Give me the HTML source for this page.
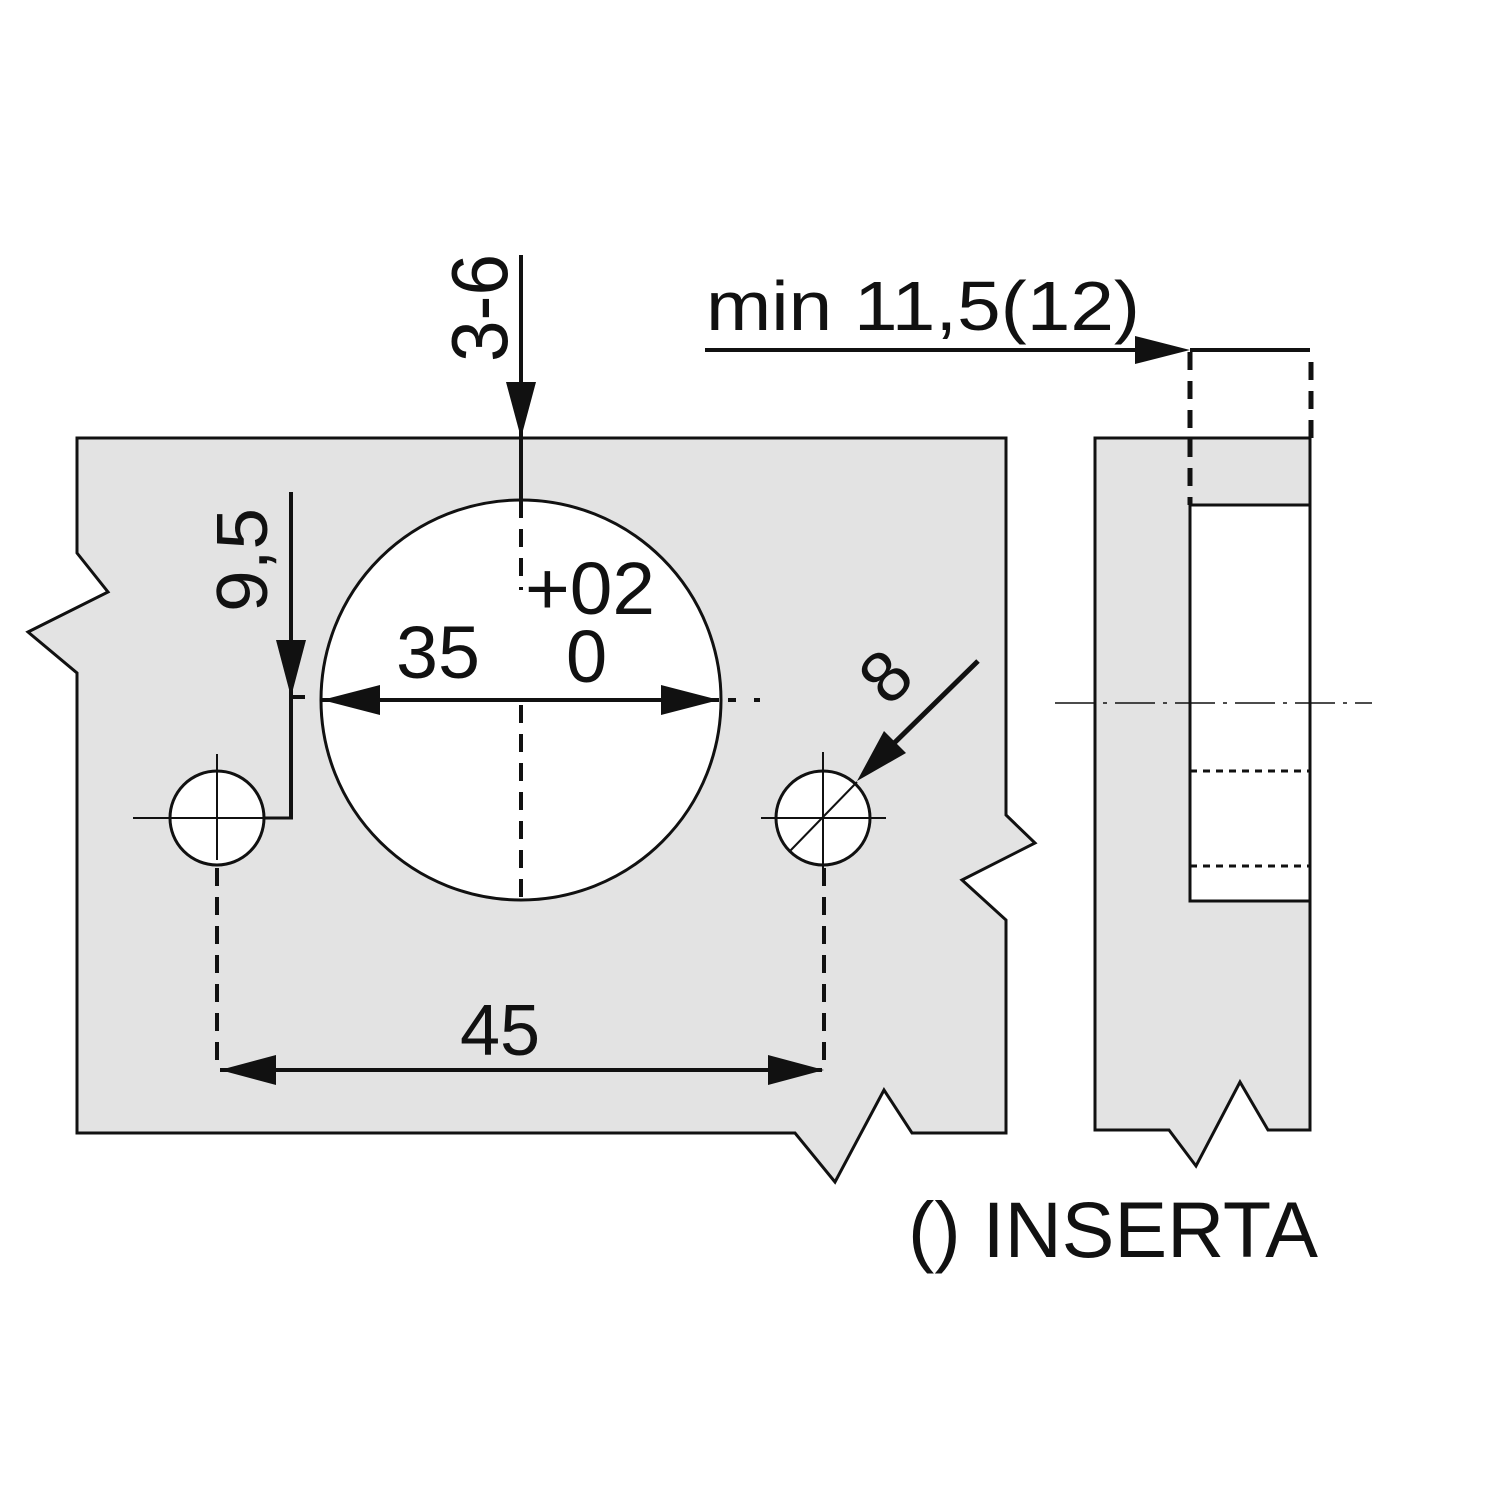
<!DOCTYPE html>
<html><head><style>html,body{margin:0;padding:0;background:#fff}svg{display:block}</style></head>
<body>
<svg width="1500" height="1500" viewBox="0 0 1500 1500" xmlns="http://www.w3.org/2000/svg" font-family="Liberation Sans, sans-serif" fill="#111">
<rect width="1500" height="1500" fill="#fff"/>
<polygon points="77,438 1006,438 1006,815 1035,843 962,880 1006,920 1006,1133 912,1133 884,1090 835,1182 795,1133 77,1133 77,673 28,632 108,592 77,553" fill="#e3e3e3" stroke="#111" stroke-width="3"/>
<polygon points="1095,438 1310,438 1310,1130 1268,1130 1240,1082 1196,1166 1169,1130 1095,1130" fill="#e3e3e3" stroke="#111" stroke-width="3"/>
<rect x="1190" y="505" width="120" height="396" fill="#fff" stroke="#111" stroke-width="3"/>
<line x1="1190" y1="771" x2="1310" y2="771" stroke="#111" stroke-width="3" stroke-dasharray="7,6"/>
<line x1="1190" y1="866" x2="1310" y2="866" stroke="#111" stroke-width="3" stroke-dasharray="7,6"/>
<line x1="1055" y1="703" x2="1372" y2="703" stroke="#111" stroke-width="1.5" stroke-dasharray="40,8,4,8"/>
<line x1="1190" y1="352" x2="1190" y2="505" stroke="#111" stroke-width="5" stroke-dasharray="18,11"/>
<line x1="1311" y1="362" x2="1311" y2="438" stroke="#111" stroke-width="5" stroke-dasharray="18,11"/>
<line x1="1190" y1="350" x2="1310" y2="350" stroke="#111" stroke-width="4"/>
<line x1="705" y1="350" x2="1150" y2="350" stroke="#111" stroke-width="4"/>
<polygon points="1190,350 1135,336 1135,364" fill="#111"/>
<text x="706" y="330" font-size="70" textLength="434" lengthAdjust="spacingAndGlyphs">min 11,5(12)</text>
<circle cx="521" cy="700" r="200" fill="#fff" stroke="#111" stroke-width="3"/>
<line x1="521" y1="255" x2="521" y2="500" stroke="#111" stroke-width="4"/>
<polygon points="521,438 506,382 536,382" fill="#111"/>
<line x1="521" y1="500" x2="521" y2="590" stroke="#111" stroke-width="4" stroke-dasharray="18,11"/>
<line x1="521" y1="705" x2="521" y2="900" stroke="#111" stroke-width="4" stroke-dasharray="18,11"/>
<text transform="translate(507,362) rotate(-90)" font-size="80" textLength="108" lengthAdjust="spacingAndGlyphs">3-6</text>
<line x1="322" y1="700" x2="719" y2="700" stroke="#111" stroke-width="4"/>
<polygon points="322,700 380,685 380,715" fill="#111"/>
<polygon points="719,700 661,685 661,715" fill="#111"/>
<line x1="728" y1="700" x2="760" y2="700" stroke="#111" stroke-width="4" stroke-dasharray="8,18"/>
<text x="396" y="678" font-size="74" textLength="84" lengthAdjust="spacingAndGlyphs">35</text>
<text x="525" y="614" font-size="74" textLength="130" lengthAdjust="spacingAndGlyphs">+02</text>
<text x="566" y="682" font-size="74">0</text>
<line x1="291" y1="492" x2="291" y2="818" stroke="#111" stroke-width="4"/>
<line x1="291" y1="697" x2="305" y2="697" stroke="#111" stroke-width="4"/>
<polygon points="291,697 276,640 306,640" fill="#111"/>
<line x1="264" y1="818" x2="293" y2="818" stroke="#111" stroke-width="3"/>
<text transform="translate(267,612) rotate(-90)" font-size="72" textLength="104" lengthAdjust="spacingAndGlyphs">9,5</text>
<circle cx="217" cy="818" r="47" fill="#fff" stroke="#111" stroke-width="3"/>
<line x1="133" y1="818" x2="264" y2="818" stroke="#111" stroke-width="2"/>
<line x1="217" y1="754" x2="217" y2="860" stroke="#111" stroke-width="2"/>
<circle cx="823" cy="818" r="47" fill="#fff" stroke="#111" stroke-width="3"/>
<line x1="761" y1="818" x2="886" y2="818" stroke="#111" stroke-width="2"/>
<line x1="823" y1="752" x2="823" y2="880" stroke="#111" stroke-width="2"/>
<line x1="790" y1="851" x2="857" y2="782" stroke="#111" stroke-width="2"/>
<line x1="978" y1="661" x2="885" y2="752" stroke="#111" stroke-width="5"/>
<polygon points="857,781 884,731 906,753" fill="#111"/>
<text transform="translate(903,694) rotate(-45)" font-size="72" text-anchor="middle">8</text>
<line x1="217" y1="868" x2="217" y2="1062" stroke="#111" stroke-width="4" stroke-dasharray="18,11"/>
<line x1="824" y1="868" x2="824" y2="1068" stroke="#111" stroke-width="4" stroke-dasharray="18,11"/>
<line x1="220" y1="1070" x2="822" y2="1070" stroke="#111" stroke-width="4"/>
<polygon points="220,1070 276,1055 276,1085" fill="#111"/>
<polygon points="824,1070 768,1055 768,1085" fill="#111"/>
<text x="500" y="1055" font-size="72" text-anchor="middle">45</text>
<text x="908" y="1257" font-size="79" textLength="410" lengthAdjust="spacingAndGlyphs">() INSERTA</text>
</svg>
</body></html>
